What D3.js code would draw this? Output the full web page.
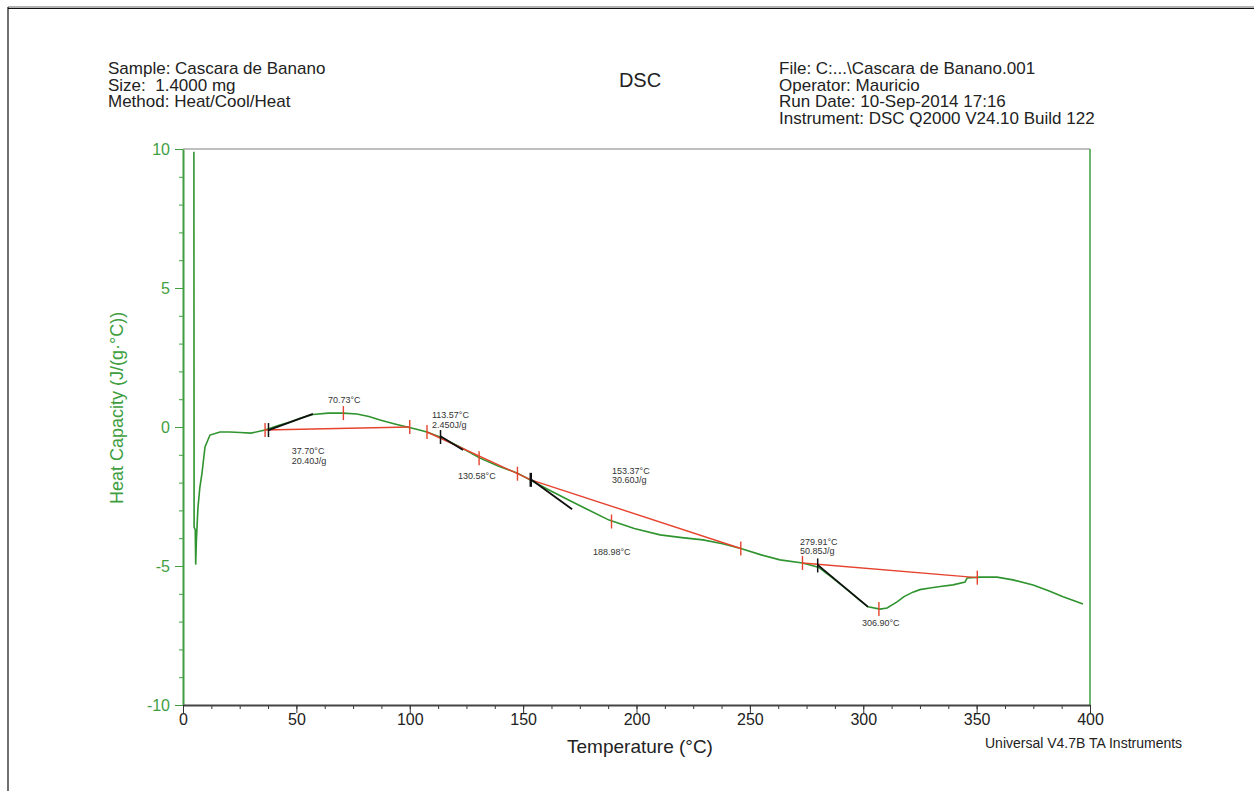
<!DOCTYPE html>
<html>
<head>
<meta charset="utf-8">
<script src="https://cdn.jsdelivr.net/npm/d3@7"></script>
<style>
    body { margin: 0; background: #fff; }
    text { font-family: "Liberation Sans", Arial, sans-serif; }
</style>
</head>
<body>
<script>
var svgWidth = 1254;
var svgHeight = 791;

var tempC = [4.8, 4.9, 5.4, 5.6, 5.9, 6.3, 6.6, 7.4, 8.4, 9.7, 11.9, 16.3, 20.7, 25.1, 30, 36.2, 42, 47.2, 52, 57.3, 64, 70.6, 76.7, 82, 86.9, 93, 98.8, 103, 107.6, 113.3, 122.2, 131, 139, 147.3, 153, 161, 169.4, 178, 187.9, 199, 210.4, 220, 229.3, 238, 246, 255, 263.3, 273.2, 280.2, 286, 293, 298, 302.1, 307.4, 310.5, 314.9, 318, 321.9, 325, 329.4, 334, 339.6, 344.9, 345.8, 351.5, 359, 366, 374.9, 382, 388.1, 393, 396.9];
var heatCap = [9.9, -3.6, -3.7, -4.95, -4.1, -3.4, -2.9, -2.2, -1.65, -0.72, -0.29, -0.18, -0.18, -0.2, -0.22, -0.11, 0.05, 0.18, 0.32, 0.45, 0.5, 0.5, 0.47, 0.38, 0.25, 0.12, 0.0, -0.08, -0.18, -0.36, -0.72, -1.12, -1.4, -1.65, -1.9, -2.25, -2.6, -2.95, -3.35, -3.65, -3.88, -3.98, -4.06, -4.2, -4.37, -4.6, -4.78, -4.89, -5.04, -5.4, -5.86, -6.2, -6.47, -6.55, -6.51, -6.29, -6.1, -5.94, -5.85, -5.79, -5.74, -5.68, -5.58, -5.43, -5.4, -5.4, -5.5, -5.68, -5.9, -6.11, -6.25, -6.37];

// integration baselines (red)
var baselines = [
    [[36.2, -0.11], [100, 0.0]],
    [[107.6, -0.18], [153.4, -1.9]],
    [[153.4, -1.9], [246, -4.37]],
    [[273.2, -4.89], [350.3, -5.42]]
];

// onset tangents (black)
var tangents = [
    [[37.7, -0.11], [57.3, 0.47]],
    [[113.57, -0.33], [123.5, -0.83]],
    [[153.37, -1.88], [171.6, -2.96]],
    [[279.91, -4.96], [302.1, -6.47]]
];

// cursor marks
var redMarks = [[36.2, -0.11], [70.73, 0.5], [100, 0.0], [107.6, -0.18], [130.58, -1.12], [147.5, -1.68], [188.98, -3.4], [246, -4.37], [273.2, -4.89], [306.9, -6.55], [350.3, -5.42]];
var blackMarks = [[37.7, -0.11, 1.5], [113.57, -0.36, 1.5], [153.37, -1.9, 2.5], [279.91, -4.98, 1.5]];

// result labels: [T, Cp, lines]
var resultLabels = [
    [48, -0.98, ["37.70°C", "20.40J/g"]],
    [63.9, 0.86, ["70.73°C"]],
    [109.8, 0.32, ["113.57°C", "2.450J/g"]],
    [121.3, -1.87, ["130.58°C"]],
    [189.2, -1.69, ["153.37°C", "30.60J/g"]],
    [180.8, -4.6, ["188.98°C"]],
    [272.1, -4.24, ["279.91°C", "50.85J/g"]],
    [299.4, -7.16, ["306.90°C"]]
];

var headerLeft = ["Sample: Cascara de Banano", "Size:  1.4000 mg", "Method: Heat/Cool/Heat"];
var headerRight = ["File: C:...\\Cascara de Banano.001", "Operator: Mauricio", "Run Date: 10-Sep-2014 17:16", "Instrument: DSC Q2000 V24.10 Build 122"];

var xMajor = [0, 50, 100, 150, 200, 250, 300, 350, 400];
var yMajor = [-10, -5, 0, 5, 10];

var green = "#3f9e3f";
var red = "#e5432d";

var svg = d3.select("body")
    .append("svg")
    .attr("width", svgWidth)
    .attr("height", svgHeight);

// page frame
svg.append("line").attr("x1", 8).attr("y1", 7).attr("x2", svgWidth).attr("y2", 7)
    .attr("stroke", "#999").attr("stroke-width", 1.5);
svg.append("line").attr("x1", 8).attr("y1", 8.5).attr("x2", svgWidth).attr("y2", 8.5)
    .attr("stroke", "#111").attr("stroke-width", 1.2);
svg.append("line").attr("x1", 8).attr("y1", 7).attr("x2", 8).attr("y2", svgHeight)
    .attr("stroke", "#111").attr("stroke-width", 1.2);

var x = d3.scaleLinear().domain([0, 400]).range([183, 1090]);
var y = d3.scaleLinear().domain([-10, 10]).range([705, 149]);

// header
svg.selectAll(".hl").data(headerLeft).enter()
    .append("text")
    .attr("x", 108)
    .attr("y", (d, i) => 74 + i * 16.5)
    .attr("font-size", "17px")
    .attr("fill", "#222")
    .style("white-space", "pre")
    .text(d => d);

svg.selectAll(".hr").data(headerRight).enter()
    .append("text")
    .attr("x", 779)
    .attr("y", (d, i) => 74 + i * 16.5)
    .attr("font-size", "17px")
    .attr("fill", "#222")
    .text(d => d);

svg.append("text")
    .attr("x", 640).attr("y", 87)
    .attr("text-anchor", "middle")
    .attr("font-size", "20px")
    .attr("fill", "#222")
    .text("DSC");

// plot frame: top grey, right green
svg.append("line").attr("x1", x(0)).attr("y1", y(10)).attr("x2", x(400)).attr("y2", y(10))
    .attr("stroke", "#aaa").attr("stroke-width", 1.5);
svg.append("line").attr("x1", x(400)).attr("y1", y(10)).attr("x2", x(400)).attr("y2", y(-10))
    .attr("stroke", green).attr("stroke-width", 1.5);

// y axis
var yMinorAxis = svg.append("g")
    .attr("transform", "translate(" + x(0) + ",0)")
    .call(d3.axisLeft(y).tickValues(d3.range(-10, 11, 1)).tickSize(4).tickFormat(""));
yMinorAxis.select(".domain").remove();
yMinorAxis.selectAll("line").attr("stroke", green);

var yAxis = svg.append("g")
    .attr("transform", "translate(" + x(0) + ",0)")
    .call(d3.axisLeft(y).tickValues(yMajor).tickSize(8).tickSizeOuter(0).tickPadding(5).tickFormat(d3.format("d")));
yAxis.select(".domain").attr("stroke", green).attr("stroke-width", 2);
yAxis.selectAll("line").attr("stroke", green);
yAxis.selectAll("text")
    .attr("fill", green)
    .attr("font-size", "16px")
    .style("font-family", "'Liberation Sans', Arial, sans-serif")
    .text(d => d < 0 ? "-" + Math.abs(d) : d);

// x axis
var xMinorAxis = svg.append("g")
    .attr("transform", "translate(0," + y(-10) + ")")
    .call(d3.axisBottom(x).tickValues(d3.range(0, 401, 12.5)).tickSize(4).tickFormat(""));
xMinorAxis.select(".domain").remove();
xMinorAxis.selectAll("line").attr("stroke", "#333");

var xAxis = svg.append("g")
    .attr("transform", "translate(0," + y(-10) + ")")
    .call(d3.axisBottom(x).tickValues(xMajor).tickSize(8).tickSizeOuter(0).tickPadding(1).tickFormat(d3.format("d")));
xAxis.select(".domain").attr("stroke", "#444").attr("stroke-width", 2);
xAxis.selectAll("line").attr("stroke", "#333");
xAxis.selectAll("text")
    .attr("fill", "#222")
    .attr("font-size", "16px")
    .style("font-family", "'Liberation Sans', Arial, sans-serif");

svg.append("text")
    .attr("x", 640).attr("y", 753)
    .attr("text-anchor", "middle")
    .attr("font-size", "19px")
    .attr("fill", "#222")
    .text("Temperature (°C)");

svg.append("text")
    .attr("x", 985).attr("y", 748)
    .attr("font-size", "14px")
    .attr("fill", "#222")
    .text("Universal V4.7B TA Instruments");

svg.append("text")
    .attr("transform", "translate(123,408) rotate(-90)")
    .attr("text-anchor", "middle")
    .attr("font-size", "18px")
    .attr("fill", green)
    .text("Heat Capacity (J/(g·°C))");

// curve
var line = d3.line()
    .x(d => x(d[0]))
    .y(d => y(d[1]));

svg.append("path")
    .datum(d3.zip(tempC, heatCap))
    .attr("d", line)
    .attr("fill", "none")
    .attr("stroke", "#2f942f")
    .attr("stroke-width", 1.6);

svg.selectAll(".baseline")
    .data(baselines).enter()
    .append("path")
    .attr("d", line)
    .attr("fill", "none")
    .attr("stroke", red)
    .attr("stroke-width", 1.4);

svg.selectAll(".tangent")
    .data(tangents).enter()
    .append("path")
    .attr("d", line)
    .attr("fill", "none")
    .attr("stroke", "#111")
    .attr("stroke-width", 1.8);

svg.selectAll(".redMark")
    .data(redMarks).enter()
    .append("line")
    .attr("x1", d => x(d[0]))
    .attr("x2", d => x(d[0]))
    .attr("y1", d => y(d[1]) - 7)
    .attr("y2", d => y(d[1]) + 7)
    .attr("stroke", red)
    .attr("stroke-width", 1.4);

svg.selectAll(".blackMark")
    .data(blackMarks).enter()
    .append("line")
    .attr("x1", d => x(d[0]))
    .attr("x2", d => x(d[0]))
    .attr("y1", d => y(d[1]) - 7)
    .attr("y2", d => y(d[1]) + 7)
    .attr("stroke", "#111")
    .attr("stroke-width", d => d[2]);

var labels = svg.selectAll(".resLabel")
    .data(resultLabels).enter()
    .append("text")
    .attr("x", d => x(d[0]))
    .attr("y", d => y(d[1]))
    .attr("font-size", "9px")
    .attr("fill", "#333");

labels.selectAll("tspan")
    .data(d => d[2].map(t => [d[0], t]))
    .enter()
    .append("tspan")
    .attr("x", d => x(d[0]))
    .attr("dy", (d, i) => i === 0 ? 0 : 9.5)
    .text(d => d[1]);
</script>
</body>
</html>
